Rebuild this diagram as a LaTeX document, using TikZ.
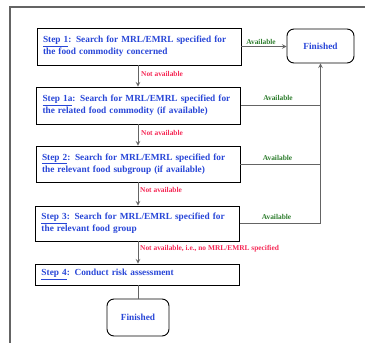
\documentclass[tikz,border=0pt]{standalone}
\usepackage{fontspec}
\setmainfont{Liberation Serif}
\definecolor{stepcol}{RGB}{40,70,215}
\definecolor{avcol}{RGB}{45,125,45}
\definecolor{nacol}{RGB}{245,40,85}
\definecolor{lncol}{RGB}{100,100,100}
\newcommand{\stepfont}{\fontsize{9.3}{12}\selectfont\bfseries\spaceskip=3.4pt plus 1pt}
\tikzset{stepbox/.style={draw,line width=0.9pt,text=stepcol,font=\stepfont,align=left,inner xsep=6pt,inner ysep=0pt,text width=192pt}}
\tikzset{finbox/.style={draw,line width=0.9pt,rounded corners=7pt,text=stepcol,font=\stepfont,inner sep=0pt}}
\tikzset{edge/.style={lncol,line width=1pt,-stealth}}
\tikzset{link/.style={lncol,line width=1pt}}
\tikzset{avlab/.style={text=avcol,font=\fontsize{7.4}{9}\selectfont\bfseries,inner sep=0pt}}
\tikzset{nalab/.style={text=nacol,font=\fontsize{7.4}{9}\selectfont\bfseries,inner sep=0pt,anchor=west}}

\begin{document}
\begin{tikzpicture}[x=1pt,y=-1pt]
\useasboundingbox (0,0) rectangle (365,343);
\draw [lncol,line width=1.2pt] (365,7) -- (10,7) -- (10,343);

\node [stepbox,minimum height=37pt] (s1) at (139,46.5) {\underline{Step 1}: Search for MRL/EMRL specified for\\the food commodity concerned};
\node [stepbox,minimum height=37pt] (s1a) at (138.5,105.5) {\underline{Step 1a}: Search for MRL/EMRL specified for\\the related food commodity (if available)};
\node [stepbox,minimum height=36pt] (s2) at (138,164) {\underline{Step 2}: Search for MRL/EMRL specified for\\the relevant food subgroup (if available)};
\node [stepbox,minimum height=35pt] (s3) at (137.5,223.5) {\underline{Step 3}: Search for MRL/EMRL specified for\\the relevant food group};
\node [stepbox,minimum height=21pt] (s4) at (137.5,274.5) {\underline{Step 4}: Conduct risk assessment};

\node [finbox,minimum width=67pt,minimum height=34pt] (fin1) at (320.5,46) {Finished};
\node [finbox,minimum width=62pt,minimum height=37pt] (fin2) at (138,317.5) {Finished};

% step 1 found
\draw [edge] (s1.east) -- (s1.east -| fin1.west);
\node [avlab] (av1) at (261,42) {Available};

% down the steps
\draw [edge] (s1.south -| 138,0) -- (s1a.north -| 138,0);
\draw [edge] (s1a.south -| 138,0) -- (s2.north -| 138,0);
\draw [edge] (s2.south -| 138,0) -- (s3.north -| 138,0);
\draw [edge] (s3.south -| 138,0) -- (s4.north -| 138,0);
\draw [link] (s4.south -| 138,0) -- (fin2.north);

\node [nalab] (na1) at (141,74) {Not available};
\node [nalab] (na2) at (141,133) {Not available};
\node [nalab] (na3) at (140,190) {Not available};
\node [nalab] (na4) at (140,249) {Not available, i.e., no MRL/EMRL specified};

% back to finished
\draw [link] (s1a.east) -- (s1a.east -| fin1.south);
\draw [link] (s2.east) -- (s2.east -| fin1.south);
\draw [edge] (s3.east) -| (fin1.south);

\node [avlab] (av2) at (278,98) {Available};
\node [avlab] (av3) at (277.5,158) {Available};
\node [avlab] (av4) at (276.5,217) {Available};
\end{tikzpicture}
\end{document}
